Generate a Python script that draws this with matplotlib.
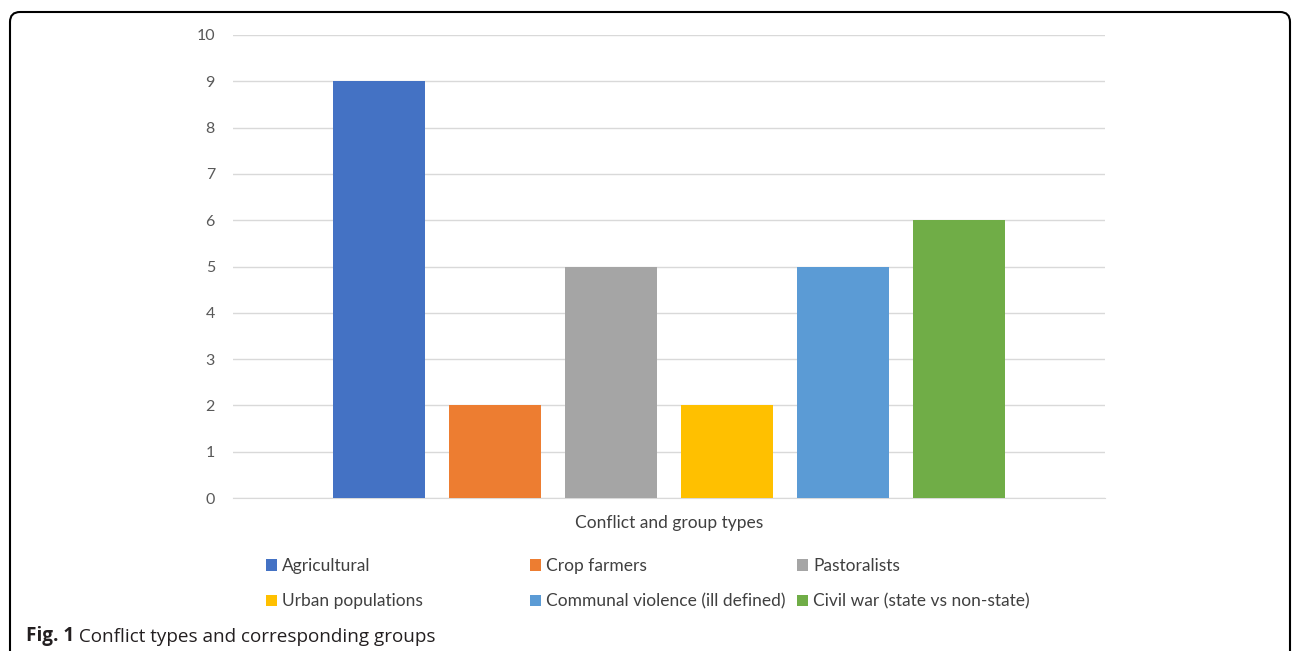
import matplotlib.pyplot as plt
import matplotlib.patches as mpatches
import matplotlib.transforms as mtransforms
import numpy as np

# one category, one bar per group
groups = ["Agricultural", "Crop farmers", "Pastoralists",
          "Urban populations", "Communal violence (ill defined)",
          "Civil war (state vs non-state)"]
counts = [9, 2, 5, 2, 5, 6]
colors = ["#4472C4", "#ED7D31", "#A5A5A5", "#FFC000", "#5B9BD5", "#70AD47"]

plt.rcParams['font.family'] = ['Lato', 'DejaVu Sans']

fig = plt.figure(figsize=(12.92, 6.51), dpi=100)
ax = fig.add_axes([233/1292, 1 - 498/651, 872/1292, 463/651])

n = len(groups)
pos = np.arange(n) - (n - 1) / 2
bars = []
for p, v, c, g in zip(pos, counts, colors, groups):
    bars.append(ax.bar(p, v, width=0.79, color=c, label=g, zorder=3))

ax.set_xlim(-3.76, 3.76)
ax.set_ylim(0, 10)
ax.set_yticks(range(0, 11))
ax.set_xticks([])
ax.tick_params(axis='y', length=0, pad=13, labelsize=11.5, labelcolor="#595959")
ax.grid(axis='y', color="#D9D9D9", linewidth=1, zorder=0)
for s in ['top', 'right', 'left']:
    ax.spines[s].set_visible(False)
ax.spines['bottom'].set_color("#D9D9D9")
ax.set_xlabel("Conflict and group types", fontsize=12.5, color="#404040", labelpad=12)

# legend laid out like Excel: 3 equal columns, filled row by row
col_x = [266, 530, 797]
for k in range(3):
    idx = [k, k + 3]
    fig.legend([bars[i] for i in idx], [groups[i] for i in idx],
               loc='upper left', bbox_to_anchor=(col_x[k]/1292, 1 - 558/651),
               frameon=False, fontsize=12.5, labelcolor="#404040",
               handlelength=0.63, handleheight=0.63, handletextpad=0.3,
               labelspacing=1.12, borderpad=0, borderaxespad=0)

# caption
t1 = fig.text(26/1292, 1 - 641/651, "Fig. 1", fontsize=13.6, fontweight='bold',
              color="#231F20", va='baseline', family=['Open Sans', 'DejaVu Sans'])
ann = plt.annotate(" Conflict types and corresponding groups", xy=(1, 0), xycoords=t1,
                   fontsize=13.6, color="#231F20", va='bottom', ha='left',
                   family=['Open Sans', 'DejaVu Sans'], annotation_clip=False)

# rounded frame around everything (bottom edge runs off the image)
frame = mpatches.FancyBboxPatch((10, -30), 1280, 651 - 12 + 30,
                                boxstyle="round,pad=0,rounding_size=10",
                                fill=False, edgecolor="black", linewidth=1.5,
                                transform=mtransforms.IdentityTransform())
fig.add_artist(frame)

fig.savefig("out.png", dpi=100)
